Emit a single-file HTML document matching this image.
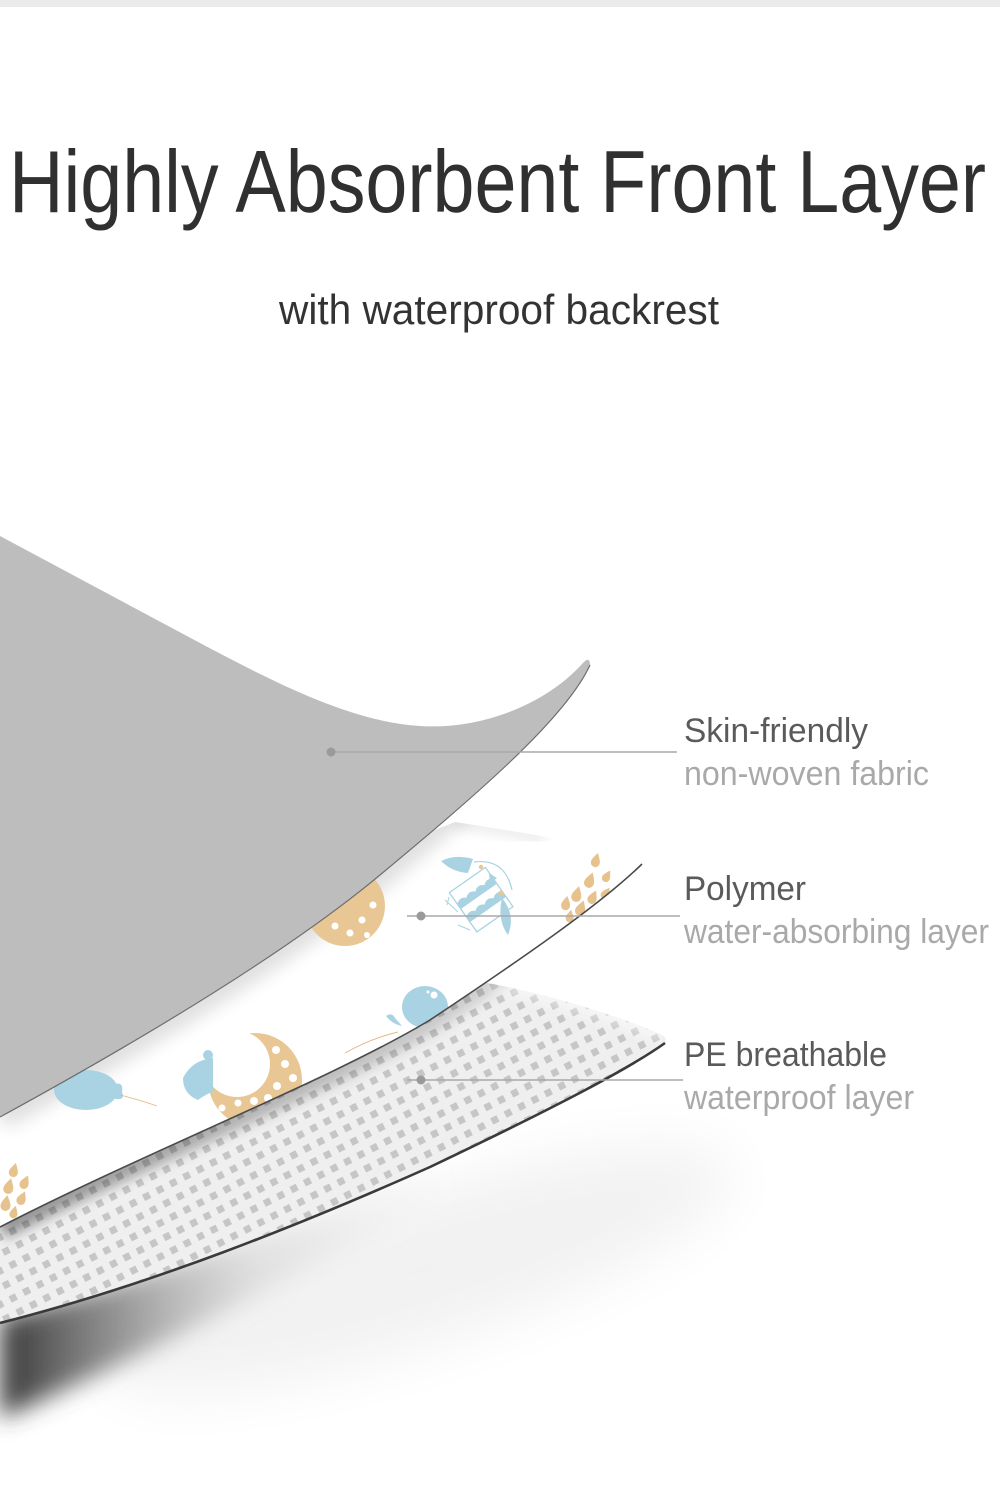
<!DOCTYPE html>
<html>
<head>
<meta charset="utf-8">
<style>
  html, body { margin:0; padding:0; background:#fff; }
  body { width:1000px; height:1504px; overflow:hidden; }
  svg { display:block; }
  text { font-family: "Liberation Sans", sans-serif; }
</style>
</head>
<body>
<svg width="1000" height="1504" viewBox="0 0 1000 1504" xmlns="http://www.w3.org/2000/svg">
  <defs>
    <pattern id="mesh" width="15" height="15" patternUnits="userSpaceOnUse" patternTransform="rotate(-27)">
      <rect width="15" height="15" fill="#efefef"/>
      <rect x="4" y="4" width="7" height="7" fill="#c6c6c6"/>
    </pattern>
    <filter id="b6" x="-20%" y="-20%" width="140%" height="140%"><feGaussianBlur stdDeviation="6"/></filter>
    <filter id="b9" x="-20%" y="-20%" width="140%" height="140%"><feGaussianBlur stdDeviation="9"/></filter>
    <filter id="b12" x="-30%" y="-30%" width="160%" height="160%"><feGaussianBlur stdDeviation="12"/></filter>
    <filter id="b30" x="-50%" y="-50%" width="200%" height="200%"><feGaussianBlur stdDeviation="30"/></filter>
    <clipPath id="cW">
      <path d="M0,1000 L455,822 C520,832 600,845 638,857 Q646,858 642,864 C600,905 520,960 430,1020 C330,1080 150,1150 0,1227 Z"/>
    </clipPath>
    <clipPath id="cM">
      <path d="M0,1190 L487,983 C530,990 610,1012 660,1034 Q668,1037 665,1043 C630,1068 560,1105 430,1167 C300,1225 150,1285 0,1323 Z"/>
    </clipPath>
    <linearGradient id="sh" x1="0" y1="0" x2="460" y2="0" gradientUnits="userSpaceOnUse">
      <stop offset="0" stop-color="#363636" stop-opacity="1"/>
      <stop offset="0.25" stop-color="#747474" stop-opacity="0.78"/>
      <stop offset="0.55" stop-color="#aaa" stop-opacity="0.3"/>
      <stop offset="1" stop-color="#ddd" stop-opacity="0"/>
    </linearGradient>
    <linearGradient id="meshShade" x1="0" y1="0" x2="500" y2="0" gradientUnits="userSpaceOnUse">
      <stop offset="0" stop-color="#000" stop-opacity="0.38"/>
      <stop offset="1" stop-color="#000" stop-opacity="0.12"/>
    </linearGradient>
    <mask id="moonMask">
      <rect x="150" y="1000" width="200" height="160" fill="#fff"/>
      <circle cx="237" cy="1064" r="33" fill="#000"/>
    </mask>
    <path id="drop" d="M0,-8 C3,-3 5,0 5,3 A5,5 0 0 1 -5,3 C-5,0 -3,-3 0,-8Z"/>
  </defs>

  <!-- top strip -->
  <rect x="0" y="0" width="1000" height="7" fill="#ebebeb"/>

  <!-- title -->
  <text x="9" y="212" font-size="88" textLength="977" lengthAdjust="spacingAndGlyphs" fill="#303030">Highly Absorbent Front Layer</text>
  <text x="279" y="324" font-size="42" textLength="440" lengthAdjust="spacingAndGlyphs" fill="#333">with waterproof backrest</text>

  <!-- wide faint shadow -->
  <ellipse cx="420" cy="1270" rx="330" ry="75" transform="rotate(-18 420 1270)" fill="#000" opacity="0.05" filter="url(#b30)"/>
  <!-- dark shadow under mesh -->
  <path d="M0,1318 C150,1280 300,1220 430,1162 L445,1198 C300,1270 150,1355 0,1418 Z" fill="url(#sh)" filter="url(#b12)"/>

  <!-- mesh layer (PE) -->
  <path d="M0,1190 L487,983 C530,990 610,1012 660,1034 Q668,1037 665,1043 C630,1068 560,1105 430,1167 C300,1225 150,1285 0,1323 Z" fill="url(#mesh)"/>
  <g clip-path="url(#cM)">
    <path d="M487,983 C530,990 610,1012 662,1036" fill="none" stroke="#fff" stroke-width="14" opacity="0.5" filter="url(#b6)"/>
    <path d="M642,864 C600,905 520,960 430,1020 C330,1080 150,1150 0,1227" fill="none" stroke="url(#meshShade)" stroke-width="26" filter="url(#b6)"/>
  </g>
  <path d="M665,1043 C630,1068 560,1105 430,1167 C300,1225 150,1285 0,1323" fill="none" stroke="#3a3a3a" stroke-width="2.6"/>

  <!-- white polymer layer -->
  <path d="M0,1000 L455,822 C520,832 600,845 638,857 Q646,858 642,864 C600,905 520,960 430,1020 C330,1080 150,1150 0,1227 Z" fill="#fff"/>
  <g clip-path="url(#cW)">
    <!-- shadow under gray -->
    <path d="M590,665 C565,720 470,800 380,875 C290,950 150,1035 0,1117" fill="none" stroke="#000" stroke-width="26" opacity="0.13" filter="url(#b9)"/>
    <path d="M455,822 C490,826 520,832 545,838" fill="none" stroke="#000" stroke-width="14" opacity="0.07" filter="url(#b6)"/>

    <!-- partial moon -->
    <circle cx="345" cy="906" r="40" fill="#e9c794"/>
    <circle cx="362" cy="920" r="3.5" fill="#fff"/>
    <circle cx="373" cy="905" r="3.5" fill="#fff"/>
    <circle cx="350" cy="933" r="3.5" fill="#fff"/>
    <circle cx="335" cy="926" r="3.5" fill="#fff"/>
    <circle cx="367" cy="935" r="3" fill="#fff"/>

    <!-- bird -->
    <path d="M441,861 Q455,854 473,859 L468,873 Q452,872 441,861Z" fill="#a9d3e3"/>
    <g transform="rotate(-35 480 898)">
      <rect x="458" y="876" width="44" height="48" fill="#fff" stroke="#a9d3e3" stroke-width="1.3"/>
      <path d="M458,890 q5.5,-5 11,0 q5.5,-5 11,0 q5.5,-5 11,0 q5.5,-5 11,0 v6 h-44z" fill="#a9d3e3"/>
      <path d="M458,906 q5.5,-5 11,0 q5.5,-5 11,0 q5.5,-5 11,0 q5.5,-5 11,0 v6 h-44z" fill="#a9d3e3"/>
    </g>
    <path d="M474,862 Q505,858 512,890" fill="none" stroke="#a9d3e3" stroke-width="1.2"/>
    <path d="M502,898 Q516,915 508,935 Q497,920 502,898Z" fill="#a9d3e3"/>
    <polygon points="489,873 497,878 490,884" fill="#a9d3e3"/>
    <circle cx="481" cy="867" r="2.2" fill="#e9c794"/>
    <circle cx="501" cy="893" r="2.5" fill="#e9c794"/>
    <path d="M445,900 L458,912 M449,897 L447,905 M458,925 L470,930" stroke="#a9d3e3" stroke-width="1" fill="none"/>

    <!-- droplets top -->
    <g fill="#e8c28c">
      <use href="#drop" transform="translate(596,860) rotate(15) scale(0.9)"/>
      <use href="#drop" transform="translate(607,876) rotate(30) scale(0.8)"/>
      <use href="#drop" transform="translate(590,880) rotate(20) scale(1)"/>
      <use href="#drop" transform="translate(606,893) rotate(35) scale(0.8)"/>
      <use href="#drop" transform="translate(577,894) rotate(15) scale(1)"/>
      <use href="#drop" transform="translate(593,897) rotate(25) scale(0.9)"/>
      <use href="#drop" transform="translate(566,903) rotate(10) scale(0.9)"/>
      <use href="#drop" transform="translate(581,908) rotate(20) scale(1)"/>
      <use href="#drop" transform="translate(570,916) rotate(10) scale(0.8)"/>
    </g>

    <!-- small balloon -->
    <ellipse cx="425" cy="1007" rx="23" ry="21" fill="#a9d3e3"/>
    <path d="M395,1018 Q392,1012 386,1016 Q392,1024 402,1026 Z" fill="#a9d3e3"/>
    <circle cx="434" cy="995" r="3.5" fill="#fff"/>
    <circle cx="428" cy="992" r="1.5" fill="#fff"/>
    <path d="M398,1032 Q372,1038 345,1053" fill="none" stroke="#e0b885" stroke-width="0.9"/>

    <!-- big moon -->
    <circle cx="255" cy="1080" r="47" fill="#e9c794" mask="url(#moonMask)"/>
    <g fill="#fff">
      <circle cx="276" cy="1050" r="4"/>
      <circle cx="285" cy="1064" r="4"/>
      <circle cx="293" cy="1078" r="4"/>
      <circle cx="277" cy="1086" r="4"/>
      <circle cx="268" cy="1098" r="4"/>
      <circle cx="254" cy="1101" r="4"/>
      <circle cx="238" cy="1103" r="3.5"/>
      <circle cx="286" cy="1100" r="3.5"/>
      <circle cx="222" cy="1108" r="3.5"/>
    </g>
    <path d="M213,1058 Q192,1060 183,1078 Q183,1094 198,1100 Q206,1094 213,1092 Z" fill="#a9d3e3"/>
    <circle cx="208" cy="1055" r="5" fill="#a9d3e3"/>

    <!-- left balloon -->
    <ellipse cx="86" cy="1090" rx="32" ry="20" fill="#a9d3e3"/>
    <path d="M112,1085 Q124,1080 122,1092 Q126,1102 112,1098 Z" fill="#a9d3e3"/>
    <path d="M120,1095 Q140,1100 157,1106" fill="none" stroke="#e0b885" stroke-width="0.9"/>

    <!-- left droplets -->
    <g fill="#e8c28c">
      <use href="#drop" transform="translate(14,1170) rotate(15) scale(0.9)"/>
      <use href="#drop" transform="translate(25,1182) rotate(25) scale(0.9)"/>
      <use href="#drop" transform="translate(9,1186) rotate(15) scale(1)"/>
      <use href="#drop" transform="translate(22,1198) rotate(25) scale(0.9)"/>
      <use href="#drop" transform="translate(6,1203) rotate(10) scale(1)"/>
      <use href="#drop" transform="translate(14,1212) rotate(15) scale(0.8)"/>
    </g>
  </g>
  <path d="M642,864 C600,905 520,960 430,1020 C330,1080 150,1150 0,1227" fill="none" stroke="#4a4a4a" stroke-width="1.6"/>

  <!-- gray top layer -->
  <path d="M0,536 L200,643 C270,680 350,722 420,726 C480,730 545,705 582,664 Q590,655 590,665 C565,720 470,800 380,875 C290,950 150,1035 0,1117 Z" fill="#bebdbe"/>
  <path d="M590,665 C565,720 470,800 380,875 C290,950 150,1035 0,1117" fill="none" stroke="#6e6e6e" stroke-width="1.2"/>

  <!-- leader lines -->
  <g stroke="#a9a9a9" stroke-width="1.5">
    <line x1="331" y1="752" x2="677" y2="752"/>
    <line x1="407" y1="916" x2="680" y2="916"/>
    <line x1="407" y1="1080" x2="683" y2="1080"/>
  </g>
  <g fill="#9a9a9a">
    <circle cx="331" cy="752" r="4.5"/>
    <circle cx="421" cy="916" r="4.5"/>
    <circle cx="421" cy="1080" r="4.5"/>
  </g>

  <!-- labels -->
  <text x="684" y="742" font-size="34" textLength="184" lengthAdjust="spacingAndGlyphs" fill="#5a5a5a">Skin-friendly</text>
  <text x="684" y="785" font-size="34" textLength="245" lengthAdjust="spacingAndGlyphs" fill="#a9a9a9">non-woven fabric</text>
  <text x="684" y="900" font-size="34" textLength="122" lengthAdjust="spacingAndGlyphs" fill="#5a5a5a">Polymer</text>
  <text x="684" y="943" font-size="34" textLength="305" lengthAdjust="spacingAndGlyphs" fill="#a9a9a9">water-absorbing layer</text>
  <text x="684" y="1066" font-size="34" textLength="203" lengthAdjust="spacingAndGlyphs" fill="#5a5a5a">PE breathable</text>
  <text x="684" y="1109" font-size="34" textLength="230" lengthAdjust="spacingAndGlyphs" fill="#a9a9a9">waterproof layer</text>
</svg>
</body>
</html>
